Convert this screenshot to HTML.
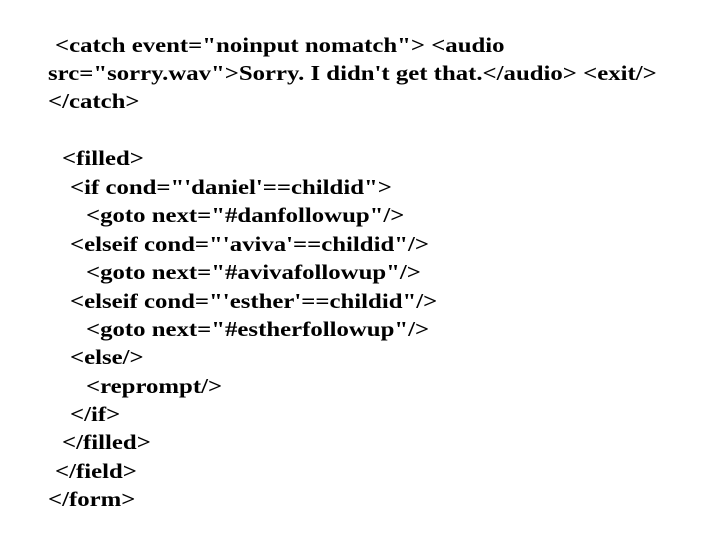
<!DOCTYPE html>
<html><head><style>
body{margin:0;width:720px;height:540px;background:#fff;position:relative;overflow:hidden}
div{position:absolute;font-family:"Liberation Serif",serif;font-weight:bold;font-size:21px;line-height:24px;white-space:pre;color:#000;transform:scaleX(1.18);transform-origin:0 50%}
</style></head><body>
<div style="left:55px;top:33px">&lt;catch event="noinput nomatch"&gt; &lt;audio</div>
<div style="left:48px;top:61px">src="sorry.wav"&gt;Sorry. I didn't get that.&lt;/audio&gt; &lt;exit/&gt;</div>
<div style="left:48px;top:89px">&lt;/catch&gt;</div>
<div style="left:62px;top:146px">&lt;filled&gt;</div>
<div style="left:70px;top:175px">&lt;if cond="'daniel'==childid"&gt;</div>
<div style="left:86px;top:203px">&lt;goto next="#danfollowup"/&gt;</div>
<div style="left:70px;top:232px">&lt;elseif cond="'aviva'==childid"/&gt;</div>
<div style="left:86px;top:260px">&lt;goto next="#avivafollowup"/&gt;</div>
<div style="left:70px;top:289px">&lt;elseif cond="'esther'==childid"/&gt;</div>
<div style="left:86px;top:317px">&lt;goto next="#estherfollowup"/&gt;</div>
<div style="left:70px;top:345px">&lt;else/&gt;</div>
<div style="left:86px;top:374px">&lt;reprompt/&gt;</div>
<div style="left:70px;top:402px">&lt;/if&gt;</div>
<div style="left:62px;top:430px">&lt;/filled&gt;</div>
<div style="left:55px;top:459px">&lt;/field&gt;</div>
<div style="left:48px;top:487px">&lt;/form&gt;</div>
</body></html>
